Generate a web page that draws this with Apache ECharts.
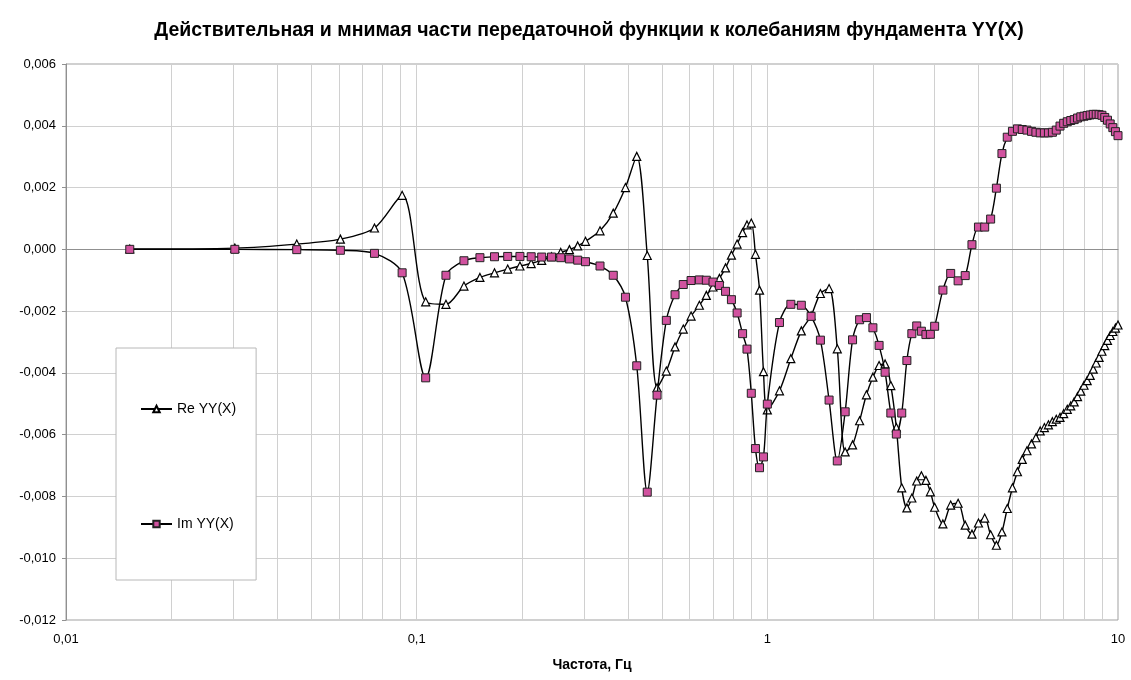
<!DOCTYPE html>
<html>
<head>
<meta charset="utf-8">
<script src="https://cdn.jsdelivr.net/npm/echarts@6/dist/echarts.min.js"></script>
<style>
  html, body { margin: 0; padding: 0; background: #fff; }
  #chart { width: 1131px; height: 680px; }
</style>
</head>
<body>
<div id="chart"></div>
<script>
// Frequency grid, Hz
const freq = [
  0.0152, 0.0303, 0.0455, 0.0606, 0.0758, 0.0909, 0.1061, 0.1212, 0.1364, 0.1515,
  0.1667, 0.1818, 0.1970, 0.2121, 0.2273, 0.2424, 0.2576, 0.2727, 0.2879, 0.3030,
  0.3333, 0.3636, 0.3939, 0.4242, 0.4545, 0.4848, 0.5152, 0.5455, 0.5758, 0.6061,
  0.64, 0.67, 0.70, 0.73, 0.76, 0.79, 0.82, 0.85, 0.875, 0.90, 0.925, 0.95, 0.975, 1.0,
  1.083, 1.167, 1.25, 1.333, 1.417, 1.5, 1.583, 1.667, 1.75, 1.833, 1.917, 2.0,
  2.083, 2.167, 2.25, 2.333, 2.417, 2.5, 2.583, 2.667, 2.75, 2.833, 2.917, 3.0,
  3.167, 3.333, 3.5, 3.667, 3.833, 4.0, 4.167, 4.333, 4.5, 4.667, 4.833, 5.0,
  5.167, 5.333, 5.5, 5.667, 5.833, 6.0, 6.167, 6.333, 6.5, 6.667, 6.833, 7.0,
  7.167, 7.333, 7.5, 7.667, 7.833, 8.0, 8.167, 8.333, 8.5, 8.667, 8.833, 9.0,
  9.167, 9.333, 9.5, 9.667, 9.833, 10.0
];

// Real part Re YY(X)
const reYY = [
  0.00001, 0.00004, 0.00017, 0.00033, 0.00069, 0.00175, -0.0017, -0.00178, -0.00119, -0.00091,
  -0.00076, -0.00064, -0.00054, -0.00046, -0.00036, -0.00024, -0.0001, -0.00001, 0.00011, 0.00026,
  0.0006, 0.00117, 0.002, 0.00301, -0.0002, -0.00448, -0.00394, -0.00316, -0.00258, -0.00216,
  -0.00181, -0.00149, -0.00122, -0.00094, -0.0006, -0.00019, 0.00017, 0.00054, 0.00079, 0.00085, -0.00016, -0.00132, -0.00396, -0.0052,
  -0.00458, -0.00354, -0.00264, -0.00215, -0.00143, -0.00127, -0.00322, -0.00656, -0.00633, -0.00555, -0.00471, -0.00414,
  -0.00376, -0.00371, -0.00441, -0.00577, -0.00772, -0.00837, -0.00805, -0.0075, -0.00733, -0.00748, -0.00785, -0.00835,
  -0.00889, -0.00828, -0.00822, -0.00893, -0.00922, -0.00886, -0.0087, -0.00924, -0.00958, -0.00915, -0.00839, -0.00772,
  -0.0072, -0.0068, -0.00652, -0.0063, -0.0061, -0.00588, -0.00577, -0.00568, -0.00558, -0.0055, -0.00544, -0.00532,
  -0.00518, -0.00507, -0.00494, -0.00477, -0.00459, -0.0044, -0.00425, -0.00408, -0.00388, -0.00368, -0.0035, -0.0033,
  -0.00312, -0.00295, -0.00279, -0.00266, -0.00255, -0.00245
];

// Imaginary part Im YY(X)
const imYY = [
  0, 0, -0.00001, -0.00003, -0.00013, -0.00076, -0.00416, -0.00084, -0.00037, -0.00027,
  -0.00024, -0.00023, -0.00023, -0.00024, -0.00025, -0.00025, -0.00027, -0.00031, -0.00035, -0.0004,
  -0.00054, -0.00084, -0.00155, -0.00377, -0.00786, -0.00472, -0.0023, -0.00147, -0.00114, -0.00101,
  -0.00099, -0.001, -0.00106, -0.00117, -0.00136, -0.00163, -0.00206, -0.00273, -0.00323, -0.00466, -0.00645, -0.00707, -0.00672, -0.00501,
  -0.00237, -0.00178, -0.00181, -0.00217, -0.00294, -0.00488, -0.00685, -0.00526, -0.00293, -0.00228, -0.00221, -0.00254,
  -0.00311, -0.00398, -0.0053, -0.00598, -0.0053, -0.0036, -0.00273, -0.00248, -0.00265, -0.00276, -0.00275, -0.00249,
  -0.00132, -0.00078, -0.00102, -0.00085, 0.00015, 0.00072, 0.00072, 0.00098, 0.00198, 0.0031, 0.00363, 0.00382,
  0.0039, 0.00388, 0.00386, 0.00382, 0.00379, 0.00377, 0.00377, 0.00377, 0.00379, 0.00386, 0.00399, 0.00408,
  0.00413, 0.00417, 0.0042, 0.00425, 0.00429, 0.00431, 0.00433, 0.00435, 0.00437, 0.00437, 0.00436, 0.00434,
  0.00427, 0.00418, 0.00406, 0.00394, 0.00381, 0.00368
];

// Intermediate log gridlines (2..9 in each decade)
const minorGrid = [
  0.02, 0.03, 0.04, 0.05, 0.06, 0.07, 0.08, 0.09,
  0.2, 0.3, 0.4, 0.5, 0.6, 0.7, 0.8, 0.9,
  2, 3, 4, 5, 6, 7, 8, 9
];

const FONT = '"Liberation Sans", Arial, sans-serif';
const fmtComma = (v, digits) => (digits == null ? String(+v.toPrecision(3)) : v.toFixed(digits)).replace('.', ',');

const chart = echarts.init(document.getElementById('chart'), null, { renderer: 'canvas' });

chart.setOption({
  animation: false,
  backgroundColor: '#ffffff',
  title: {
    text: 'Действительная и мнимая части передаточной функции к колебаниям фундамента YY(X)',
    left: 584,
    top: 16,
    textAlign: 'center',
    textStyle: { fontFamily: FONT, fontSize: 19.5, fontWeight: 'bold', color: '#000' }
  },
  legend: {
    orient: 'vertical',
    left: 116,
    top: 348,
    data: ['Re YY(X)', 'Im YY(X)'],
    itemWidth: 31,
    itemHeight: 8,
    itemGap: 101,
    padding: [54, 20, 49, 24],
    borderColor: '#b8b8b8',
    borderWidth: 1,
    backgroundColor: '#ffffff',
    textStyle: { fontFamily: FONT, fontSize: 14, color: '#000' }
  },
  grid: {
    left: 66, right: 13, top: 64, bottom: 60,
    show: true, borderColor: '#a0a0a0', borderWidth: 1, backgroundColor: 'transparent'
  },
  xAxis: {
    type: 'log',
    logBase: 10,
    min: 0.01,
    max: 10,
    name: 'Частота, Гц',
    nameLocation: 'middle',
    nameGap: 38,
    nameTextStyle: { fontFamily: FONT, fontSize: 14, fontWeight: 'bold', color: '#000' },
    axisLine: { show: true, lineStyle: { color: '#909090', width: 1 } },
    axisTick: { show: false },
    axisLabel: {
      margin: 13,
      fontFamily: FONT, fontSize: 13, color: '#000',
      formatter: v => fmtComma(v)
    },
    splitLine: { show: true, lineStyle: { color: '#d0d0d0', width: 1 } }
  },
  yAxis: {
    type: 'value',
    min: -0.012,
    max: 0.006,
    interval: 0.002,
    axisLine: { show: true, lineStyle: { color: '#909090', width: 1 } },
    axisTick: { show: true, length: 4, lineStyle: { color: '#909090' } },
    axisLabel: {
      margin: 10,
      fontFamily: FONT, fontSize: 13, color: '#000',
      formatter: v => fmtComma(v, 3)
    },
    splitLine: { show: true, lineStyle: { color: '#d0d0d0', width: 1 } }
  },
  series: [
    {
      name: 'grid-minor',
      type: 'line',
      data: [],
      silent: true,
      z: 0,
      markLine: {
        z: 0,
        silent: true,
        symbol: 'none',
        label: { show: false },
        emphasis: { disabled: true },
        lineStyle: { color: '#d0d0d0', width: 1, type: 'solid' },
        data: minorGrid.map(v => ({ xAxis: v }))
      }
    },
    {
      name: 'Re YY(X)',
      type: 'line',
      z: 3,
      smooth: 0.3,
      data: freq.map((f, i) => [f, reYY[i]]),
      symbol: 'triangle',
      symbolSize: 8,
      showAllSymbol: true,
      lineStyle: { color: '#000', width: 1.4 },
      itemStyle: { color: '#ffffff', borderColor: '#000', borderWidth: 1.2 }
    },
    {
      name: 'Im YY(X)',
      type: 'line',
      z: 4,
      smooth: 0.3,
      data: freq.map((f, i) => [f, imYY[i]]),
      symbol: 'rect',
      symbolSize: 8,
      showAllSymbol: true,
      lineStyle: { color: '#000', width: 1.4 },
      itemStyle: { color: '#d1529f', borderColor: '#222', borderWidth: 1 }
    }
  ]
});
</script>
</body>
</html>
